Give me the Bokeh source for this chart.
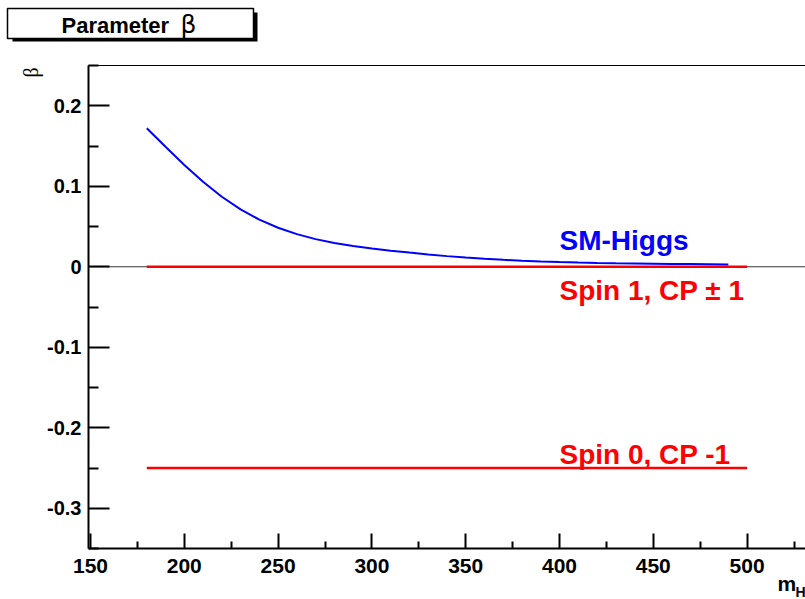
import math
from bokeh.plotting import figure
from bokeh.models import (Range1d, FixedTicker, LinearAxis, Label,
                          BoxAnnotation, ColumnDataSource)
from bokeh.core.properties import value
from bokeh.embed import file_html
from bokeh.resources import INLINE

# ---------------- data ----------------
mass_sm = [180, 190, 200, 210, 220, 230, 240, 250, 260, 270, 280, 290, 300,
           310, 320, 330, 340, 350, 360, 370, 380, 390, 400, 410, 420, 430,
           440, 450, 460, 470, 480, 490]
beta_sm = [0.172, 0.149, 0.1265, 0.1055, 0.0870, 0.0712, 0.0585, 0.0485,
           0.0405, 0.0343, 0.0295, 0.0259, 0.0228, 0.0200, 0.0176, 0.0153,
           0.0132, 0.0114, 0.0099, 0.0086, 0.0075, 0.0066, 0.0059, 0.0053,
           0.0048, 0.0044, 0.0041, 0.0038, 0.0035, 0.0033, 0.0031, 0.0029]

mass_flat = [180, 500]
beta_spin1 = [0.0, 0.0]
beta_spin0 = [-0.25, -0.25]

x_major = [150, 200, 250, 300, 350, 400, 450, 500]
x_minor = [175, 225, 275, 325, 375, 425, 475, 525]
x_labels = ["150", "200", "250", "300", "350", "400", "450", "500"]
y_major = [-0.3, -0.2, -0.1, 0.0, 0.1, 0.2]
y_minor = [-0.35, -0.25, -0.15, -0.05, 0.05, 0.15, 0.25]
y_labels = ["-0.3", "-0.2", "-0.1", "0", "0.1", "0.2"]

curve_names = ["SM-Higgs", "Spin 1, CP \u00b1 1", "Spin 0, CP -1"]
name_x = [400, 400, 400]
name_y = [0.0214, -0.0407, -0.2448]
name_color = ["#0000ff", "#ff0000", "#ff0000"]

# ---------------- layout ----------------
W, H = 805, 599
PX_X = 1.876          # pixels per unit of m_H
PX_Y = 805.0          # pixels per unit of beta
X150_PX = 90          # pixel column of m_H = 150
YTOP_PX = 65          # pixel row of beta = 0.25
Y_LO, Y_HI = -0.35, 0.25
XR0 = 150 - X150_PX / PX_X
XR1 = XR0 + W / PX_X
YR1 = Y_HI + YTOP_PX / PX_Y
YR0 = YR1 - H / PX_Y
X_AX = 150 - 2 / PX_X     # position of the vertical axis line
BASE = 0.33               # baseline correction (fraction of font size)


def dx(px):
    return XR0 + px / PX_X


def dy(py):
    return YR1 - py / PX_Y


p = figure(width=W, height=H, x_range=Range1d(XR0, XR1), y_range=Range1d(YR0, YR1),
           output_backend="svg", toolbar_location=None, tools="",
           x_axis_location=None, y_axis_location=None,
           min_border=0, min_border_left=0, min_border_right=0,
           min_border_top=0, min_border_bottom=0,
           background_fill_color="white", border_fill_color="white",
           outline_line_color=None)
p.xgrid.visible = False
p.ygrid.visible = False

xa = LinearAxis(ticker=FixedTicker(ticks=x_major, minor_ticks=x_minor),
                fixed_location=Y_LO, bounds=(X_AX, XR1))
xa.major_label_overrides = {float(v): s for v, s in zip(x_major, x_labels)}
ya = LinearAxis(ticker=FixedTicker(ticks=y_major, minor_ticks=y_minor),
                fixed_location=X_AX, bounds=(Y_LO, Y_HI))
ya.major_label_overrides = {float(v): s for v, s in zip(y_major, y_labels)}

for ax, tin, mtin in ((xa, 15, 7), (ya, 21, 10)):
    ax.axis_line_width = 2
    ax.axis_line_color = "black"
    ax.major_tick_in = tin
    ax.major_tick_out = 0
    ax.minor_tick_in = mtin
    ax.minor_tick_out = 0
    ax.major_tick_line_width = 2
    ax.minor_tick_line_width = 2
    ax.major_label_text_font = "Liberation Sans"
    ax.major_label_text_font_style = "bold"
    ax.major_label_text_color = "black"
xa.major_label_text_font_size = "21px"
xa.major_label_standoff = 10
ya.major_label_text_font_size = "20px"
ya.major_label_standoff = 7
p.add_layout(xa, "below")
p.add_layout(ya, "left")

top_axis = LinearAxis(ticker=FixedTicker(ticks=[]), fixed_location=Y_HI,
                      bounds=(X_AX, XR1), axis_line_width=1,
                      axis_line_color="black", major_tick_line_color=None,
                      minor_tick_line_color=None,
                      major_label_text_font_size="0px")
p.add_layout(top_axis, "above")

# zero line across the frame
p.segment(x0=[X_AX], y0=[0.0], x1=[XR1], y1=[0.0], line_color="#333333", line_width=1)

p.line(mass_flat, beta_spin1, line_color="#ff0000", line_width=2.5)
p.line(mass_flat, beta_spin0, line_color="#ff0000", line_width=2.5)
p.line(mass_sm, beta_sm, line_color="#0000ff", line_width=2)

name_y_draw = [v + BASE * 28 / PX_Y for v in name_y]
src = ColumnDataSource(dict(x=name_x, y=name_y_draw, text=curve_names, color=name_color))
p.text(x="x", y="y", text="text", source=src, text_color="color",
       text_font=value("Liberation Sans"), text_font_style="bold",
       text_font_size="28px", text_align="left", text_baseline="alphabetic")

# title box with shadow
p.add_layout(BoxAnnotation(left=dx(12), right=dx(257), top=dy(12), bottom=dy(41),
                           fill_color="black", fill_alpha=1, line_color=None))
p.add_layout(BoxAnnotation(left=dx(7), right=dx(253), top=dy(8), bottom=dy(38),
                           fill_color="white", fill_alpha=1, line_color="black",
                           line_width=1.5, line_alpha=1))


def label(px, py, text, size, font="Liberation Sans", style="bold", angle=0.0):
    shift = BASE * size
    if angle:
        px -= shift
    else:
        py -= shift
    p.add_layout(Label(x=dx(px), y=dy(py), text=text, text_font=font,
                       text_font_style=style, text_font_size=f"{size}px",
                       text_align="left", text_baseline="alphabetic",
                       text_color="black", angle=angle))


label(61, 32, "Parameter", 22)
label(180, 32, "\u03b2", 25, font="DejaVu Sans", style="normal")
label(37, 77, "\u03b2", 20, font="Liberation Serif", style="normal", angle=math.pi / 2)
label(777, 590, "m", 21)
label(795, 596, "H", 14)

open("out.html", "w").write(file_html(p, INLINE))
